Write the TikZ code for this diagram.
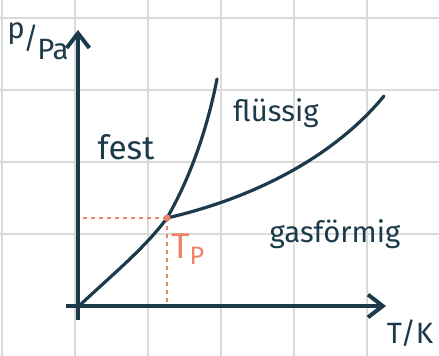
\documentclass[tikz,border=0pt]{standalone}
\usepackage{fontspec}
\setmainfont{Fira Sans}
\usetikzlibrary{positioning,arrows.meta}
\definecolor{ink}{HTML}{1C3A4A}
\definecolor{salmon}{HTML}{EE8466}
\definecolor{gridgray}{HTML}{DADADA}

\begin{document}
\begin{tikzpicture}[x=0.75pt, y=-0.75pt,
  font=\fontsize{22}{24}\selectfont, >={Straight Barb[length=11pt,width=17pt,line width=3pt]},
  gridline/.style={gridgray, line width=1.2pt},
  axis/.style={ink, line width=3.6pt, ->},
  curve/.style={ink, line width=2.4pt, line cap=round},
  phase/.style={ink, inner sep=0pt},
  helper/.style={salmon, line width=1.6pt, dash pattern=on 3pt off 3pt}]
  \useasboundingbox (0,0) rectangle (439,356);
  % grid
  \foreach \x in {2,75,148,221,294,367}
    \draw[gridline] (\x,0) -- (\x,356);
  \foreach \y in {18,90,162,234}
    \draw[gridline] (0,\y) -- (439,\y);

  \coordinate (o)    at (80,305);
  \coordinate (ybot) at (78,320);
  \coordinate (ytip) at (78,30);
  \coordinate (xl)   at (66,306);
  \coordinate (xtip) at (386,306);
  \coordinate (tp)   at (167,218);
  \coordinate (smax) at (217,79);
  \coordinate (vmax) at (384,96);
  \coordinate (ht)   at (83,218);
  \coordinate (vt)   at (167,304);

  % axes
  \draw[axis] (ybot) -- (ytip);
  \draw[axis] (xl) -- (xtip);
  \node[phase] (ylab) at (38,41) {\raisebox{8pt}{p}\kern-1pt/\kern-1pt\raisebox{-8pt}{Pa}};
  \node[phase] (xlab) at (410,333) {T/K};

  % phase boundaries
  \draw[helper] (ht) -- (tp);
  \draw[helper] (tp) -- (vt);
  \draw[curve] (o) .. controls (112,275) and (145,248) .. (tp);
  \draw[curve] (tp) .. controls (190,178) and (207,130) .. (smax);
  \draw[curve] (tp) .. controls (262,196) and (338,152) .. (vmax);
  \fill[salmon] (tp) circle (3.5);

  \node[phase, font=\fontsize{25}{28}\selectfont] (fest) at (126,147) {fest};
  \node[phase] (fl)    at (276,113) {flüssig};
  \node[phase] (gas)   at (335,234) {gasförmig};
  \node[phase, salmon, font=\fontsize{27}{30}\selectfont] (tpl) at (188,249) {T\textsubscript{P}};
\end{tikzpicture}
\end{document}
